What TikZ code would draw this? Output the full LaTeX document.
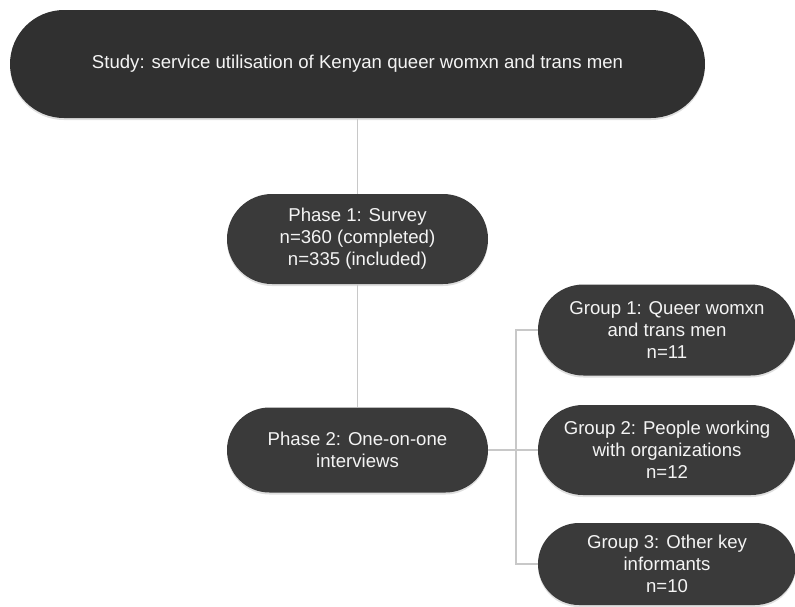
\documentclass[tikz,border=0pt]{standalone}
\usepackage{fontspec}
\setmainfont{Liberation Sans}
\usetikzlibrary{shapes.misc,shadows}
\definecolor{boxfill}{HTML}{3A3A3A}
\definecolor{topfill}{HTML}{303030}
\definecolor{linegray}{HTML}{C8C8C8}
\definecolor{txt}{HTML}{F4F4F4}
\tikzset{
  pill/.style={rounded rectangle, fill=boxfill, text=txt, align=center,
    font=\fontsize{18.6pt}{22pt}\selectfont, inner sep=0pt,
    drop shadow={opacity=0.25, shadow xshift=0pt, shadow yshift=-2pt}},
  conn/.style={draw=linegray, line width=1.3pt}
}
\begin{document}
\begin{tikzpicture}[x=1pt,y=-1pt]
\useasboundingbox (0,0) rectangle (795,606);
\node[pill, fill=topfill, minimum width=695pt, minimum height=108pt] (study) at (357.5,64) {Study: service utilisation of Kenyan queer womxn and trans men};
\node[pill, minimum width=261pt, minimum height=90pt] (p1) at (357.5,239) {Phase 1: Survey\\n=360 (completed)\\n=335 (included)};
\node[pill, minimum width=261pt, minimum height=85pt] (p2) at (357.5,450) {Phase 2: One-on-one\\interviews};
\node[pill, minimum width=258pt, minimum height=91pt] (g1) at (667,330) {Group 1: Queer womxn\\and trans men\\n=11};
\node[pill, minimum width=258pt, minimum height=90pt] (g2) at (667,450) {Group 2: People working\\with organizations\\n=12};
\node[pill, minimum width=258pt, minimum height=82pt] (g3) at (667,564) {Group 3: Other key\\informants\\n=10};
\coordinate (j) at (516,450);
\draw[conn] (study.south) -- (p1.north);
\draw[conn] (p1.south) -- (p2.north);
\draw[conn] (p2.east) -- (j);
\draw[conn] (j) |- (g1.west);
\draw[conn] (j) -- (g2.west);
\draw[conn] (j) |- (g3.west);
\end{tikzpicture}
\end{document}
